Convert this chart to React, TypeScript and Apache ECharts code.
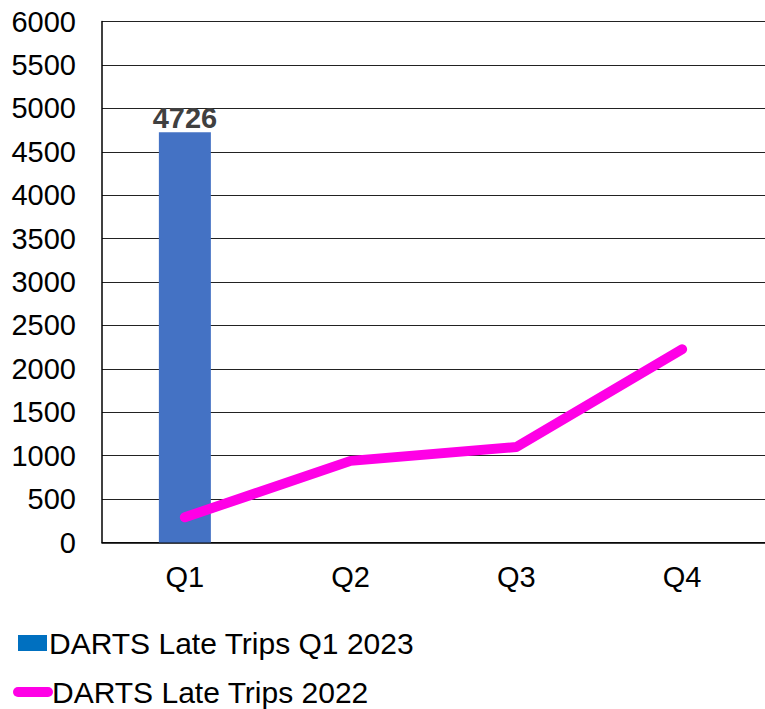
import React, { useEffect, useRef } from "react";
import * as echarts from "echarts";

const categories = ["Q1", "Q2", "Q3", "Q4"];
const barName = "DARTS Late Trips Q1 2023";
const lineName = "DARTS Late Trips 2022";
const barValues = [4726, null, null, null];
const lineValues = [290, 940, 1100, 2225];

const FONT = "'Liberation Sans', Arial, sans-serif";

export default function App() {
  const ref = useRef<HTMLDivElement>(null);
  useEffect(() => {
    if (!ref.current) return;
    const chart = echarts.init(ref.current, null, { renderer: "svg" });
    chart.setOption({
      animation: false,
      backgroundColor: "#ffffff",
      grid: { left: 102, top: 21.5, width: 668, height: 521 },
      legend: [
        {
          data: [{ name: barName, itemStyle: { color: "#0070C0" } }],
          left: 18,
          top: 628,
          padding: 0,
          icon: "rect",
          itemWidth: 29,
          itemHeight: 16,
          itemGap: 0,
          selectedMode: false,
          textStyle: { fontFamily: FONT, fontSize: 30, color: "#000", padding: [0, 0, 0, -3] },
        },
        {
          data: [{ name: lineName }],
          left: 13,
          top: 677,
          padding: 0,
          icon: "path://M5,0 L35,0 A5,5 0 0 1 35,10 L5,10 A5,5 0 0 1 5,0 Z",
          itemWidth: 40,
          itemHeight: 10,
          selectedMode: false,
          textStyle: { fontFamily: FONT, fontSize: 30, color: "#000", padding: [0, 0, 0, -6] },
        },
      ],
      xAxis: {
        type: "category",
        data: categories,
        axisLine: { show: true, lineStyle: { color: "#000", width: 1.5 } },
        axisTick: { show: false },
        axisLabel: { fontFamily: FONT, fontSize: 29, color: "#000", margin: 20 },
      },
      yAxis: {
        type: "value",
        min: 0,
        max: 6000,
        interval: 500,
        axisLine: { show: true, lineStyle: { color: "#000", width: 1.5 } },
        axisTick: { show: false },
        axisLabel: {
          fontFamily: FONT,
          fontSize: 29,
          color: "#000",
          margin: 26,
          formatter: (v: number) => String(v),
        },
        splitLine: { show: true, lineStyle: { color: "#222", width: 1.2 } },
      },
      series: [
        {
          name: barName,
          type: "bar",
          data: barValues,
          barWidth: 52,
          itemStyle: { color: "#4472C4" },
          label: {
            show: true,
            position: "top",
            distance: 0,
            fontFamily: FONT,
            fontSize: 29,
            fontWeight: "bold",
            color: "#404040",
          },
        },
        {
          name: lineName,
          type: "line",
          data: lineValues,
          symbol: "none",
          lineStyle: { color: "#FF00E6", width: 10, cap: "round", join: "round" },
          itemStyle: { color: "#FF00E6" },
        },
      ],
    });
    return () => chart.dispose();
  }, []);
  return (
    <div
      ref={ref}
      style={{ position: "fixed", left: 0, top: 0, width: 765, height: 709 }}
    />
  );
}
